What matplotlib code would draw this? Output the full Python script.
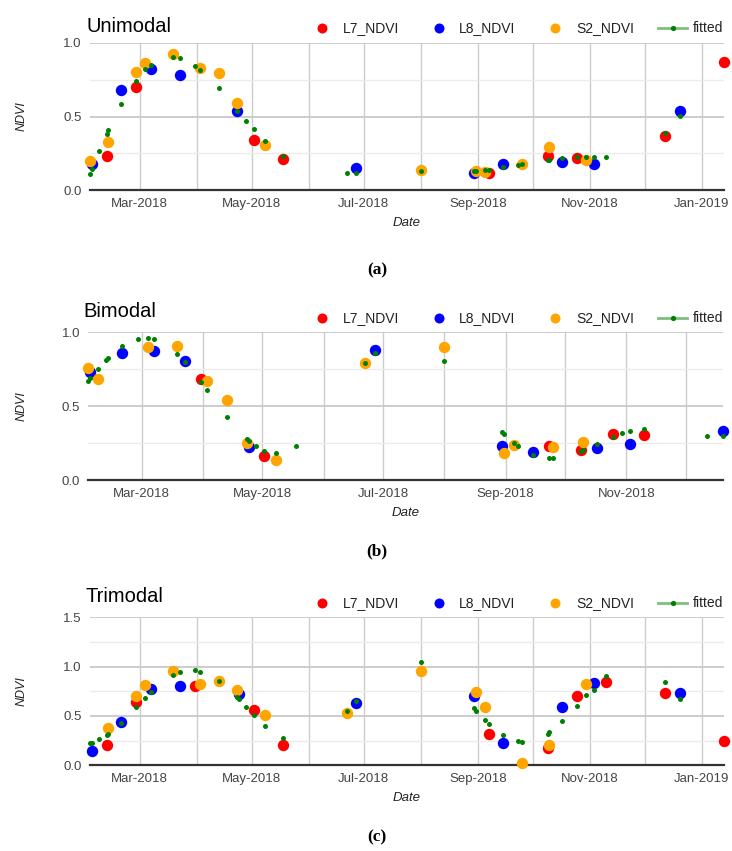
"""
Series temporales de NDVI (Landsat 7, Landsat 8, Sentinel-2) con la curva ajustada,
para tres patrones fenológicos: unimodal, bimodal y trimodal.
"""

import matplotlib
matplotlib.use('Agg')
import matplotlib.pyplot as plt
import matplotlib.dates as mdates
from matplotlib.lines import Line2D
from matplotlib.ticker import MultipleLocator, FormatStrFormatter
import pandas as pd

plt.rcParams['font.family'] = ['Liberation Sans', 'DejaVu Sans']

# =====================================================
# DATOS - UNIMODAL
# =====================================================
uni_l7_fechas = ['2018-02-11', '2018-02-27', '2018-05-02', '2018-05-18', '2018-09-07',
                 '2018-10-09', '2018-10-25', '2018-12-12', '2019-01-13']
uni_l7_ndvi = [0.23, 0.70, 0.34, 0.21, 0.12, 0.23, 0.22, 0.37, 0.87]

uni_l8_fechas = ['2018-02-03', '2018-02-19', '2018-03-07', '2018-03-23', '2018-04-23',
                 '2018-06-27', '2018-08-30', '2018-09-15', '2018-10-17', '2018-11-03',
                 '2018-12-20']
uni_l8_ndvi = [0.18, 0.68, 0.82, 0.78, 0.54, 0.15, 0.12, 0.18, 0.19, 0.18, 0.54]

uni_s2_fechas = ['2018-02-02', '2018-02-12', '2018-02-27', '2018-03-04', '2018-03-19',
                 '2018-04-03', '2018-04-13', '2018-04-23', '2018-05-08', '2018-08-01',
                 '2018-08-31', '2018-09-05', '2018-09-25', '2018-10-10', '2018-10-30']
uni_s2_ndvi = [0.20, 0.33, 0.80, 0.865, 0.925, 0.83, 0.795, 0.59, 0.31, 0.14,
               0.13, 0.125, 0.175, 0.29, 0.205]

uni_fit_fechas = ['2018-02-02', '2018-02-03', '2018-02-07', '2018-02-11', '2018-02-12',
                  '2018-02-19', '2018-02-27', '2018-03-04', '2018-03-07', '2018-03-19',
                  '2018-03-23', '2018-03-31', '2018-04-03', '2018-04-13', '2018-04-23',
                  '2018-04-28', '2018-05-02', '2018-05-08', '2018-05-18', '2018-06-22',
                  '2018-06-27', '2018-08-01', '2018-08-30', '2018-08-31', '2018-09-05',
                  '2018-09-07', '2018-09-15', '2018-09-23', '2018-09-25', '2018-10-09',
                  '2018-10-10', '2018-10-17', '2018-10-25', '2018-10-30', '2018-11-03',
                  '2018-11-10', '2018-12-12', '2018-12-20']
uni_fit_ndvi = [0.113, 0.142, 0.266, 0.384, 0.41, 0.585, 0.743, 0.82, 0.851, 0.903,
                0.896, 0.844, 0.815, 0.691, 0.537, 0.47, 0.415, 0.336, 0.232, 0.115,
                0.12, 0.133, 0.133, 0.133, 0.14, 0.14, 0.16, 0.174, 0.178, 0.205,
                0.205, 0.217, 0.223, 0.223, 0.223, 0.223, 0.386, 0.506]

# =====================================================
# DATOS - BIMODAL
# =====================================================
bi_l7_fechas = ['2018-03-31', '2018-05-02', '2018-09-23', '2018-10-09', '2018-10-25',
                '2018-11-10']
bi_l7_ndvi = [0.682, 0.167, 0.234, 0.205, 0.313, 0.304]

bi_l8_fechas = ['2018-02-03', '2018-02-19', '2018-03-07', '2018-03-23', '2018-04-24',
                '2018-06-27', '2018-08-30', '2018-09-15', '2018-10-17', '2018-11-03',
                '2018-12-20']
bi_l8_ndvi = [0.73, 0.863, 0.872, 0.804, 0.223, 0.881, 0.23, 0.194, 0.221, 0.248, 0.336]

bi_s2_fechas = ['2018-02-02', '2018-02-07', '2018-03-04', '2018-03-19', '2018-04-03',
                '2018-04-13', '2018-04-23', '2018-05-08', '2018-06-22', '2018-08-01',
                '2018-08-31', '2018-09-05', '2018-09-25', '2018-10-10']
bi_s2_ndvi = [0.757, 0.685, 0.903, 0.91, 0.669, 0.545, 0.25, 0.137, 0.79, 0.899,
              0.185, 0.239, 0.223, 0.261]

bi_fit_fechas = ['2018-02-02', '2018-02-03', '2018-02-07', '2018-02-11', '2018-02-12',
                 '2018-02-19', '2018-02-27', '2018-03-04', '2018-03-07', '2018-03-19',
                 '2018-03-23', '2018-03-31', '2018-04-03', '2018-04-13', '2018-04-23',
                 '2018-04-24', '2018-04-28', '2018-05-02', '2018-05-08', '2018-05-18',
                 '2018-06-22', '2018-06-27', '2018-08-01', '2018-08-30', '2018-08-31',
                 '2018-09-05', '2018-09-07', '2018-09-15', '2018-09-23', '2018-09-25',
                 '2018-10-09', '2018-10-10', '2018-10-17', '2018-10-25', '2018-10-30',
                 '2018-11-03', '2018-11-10', '2018-12-12', '2018-12-20']
bi_fit_ndvi = [0.671, 0.689, 0.752, 0.813, 0.829, 0.908, 0.957, 0.962, 0.955, 0.854,
               0.80, 0.664, 0.61, 0.428, 0.279, 0.268, 0.232, 0.2, 0.187, 0.234,
               0.79, 0.86, 0.804, 0.327, 0.311, 0.25, 0.23, 0.171, 0.151, 0.151,
               0.198, 0.205, 0.245, 0.295, 0.318, 0.331, 0.349, 0.30, 0.302]

# =====================================================
# DATOS - TRIMODAL
# =====================================================
tri_l7_fechas = ['2018-02-11', '2018-02-27', '2018-03-31', '2018-05-02', '2018-05-18',
                 '2018-09-07', '2018-10-09', '2018-10-25', '2018-11-10', '2018-12-12',
                 '2019-01-13']
tri_l7_ndvi = [0.209, 0.639, 0.804, 0.561, 0.206, 0.321, 0.172, 0.706, 0.848, 0.733, 0.247]

tri_l8_fechas = ['2018-02-03', '2018-02-19', '2018-03-07', '2018-03-23', '2018-04-24',
                 '2018-06-27', '2018-08-30', '2018-09-15', '2018-10-17', '2018-11-03',
                 '2018-12-20']
tri_l8_ndvi = [0.149, 0.439, 0.777, 0.807, 0.723, 0.628, 0.699, 0.23, 0.595, 0.838, 0.73]

tri_s2_fechas = ['2018-02-12', '2018-02-27', '2018-03-04', '2018-03-19', '2018-04-03',
                 '2018-04-13', '2018-04-23', '2018-05-08', '2018-06-22', '2018-08-01',
                 '2018-08-31', '2018-09-05', '2018-09-25', '2018-10-10', '2018-10-30']
tri_s2_ndvi = [0.378, 0.706, 0.811, 0.953, 0.828, 0.858, 0.76, 0.51, 0.53, 0.956,
               0.74, 0.595, 0.02, 0.206, 0.821]

tri_fit_fechas = ['2018-02-02', '2018-02-03', '2018-02-07', '2018-02-11', '2018-02-12',
                  '2018-02-19', '2018-02-27', '2018-03-04', '2018-03-07', '2018-03-19',
                  '2018-03-23', '2018-03-31', '2018-04-03', '2018-04-13', '2018-04-23',
                  '2018-04-24', '2018-04-28', '2018-05-02', '2018-05-08', '2018-05-18',
                  '2018-06-22', '2018-06-27', '2018-08-01', '2018-08-30', '2018-08-31',
                  '2018-09-05', '2018-09-07', '2018-09-15', '2018-09-23', '2018-09-25',
                  '2018-10-09', '2018-10-10', '2018-10-17', '2018-10-25', '2018-10-30',
                  '2018-11-03', '2018-11-10', '2018-12-12', '2018-12-20']
tri_fit_ndvi = [0.23, 0.23, 0.264, 0.307, 0.321, 0.432, 0.588, 0.686, 0.747, 0.916,
                0.949, 0.963, 0.949, 0.855, 0.689, 0.669, 0.588, 0.51, 0.402, 0.274,
                0.547, 0.652, 1.05, 0.578, 0.554, 0.459, 0.422, 0.304, 0.243, 0.236,
                0.318, 0.334, 0.449, 0.605, 0.709, 0.764, 0.909, 0.848, 0.672]

# =====================================================
# CONSTANTES DE ESTILO
# =====================================================
ROJO, AZUL, NARANJA, VERDE = '#ff0000', '#0000ff', '#ffa500', '#008000'
W, H = 732, 851


def px(x, y):
    """Pasa coordenadas en píxeles (origen arriba a la izquierda) a fracción de figura"""
    return x / W, 1 - y / H


def dibujar_panel(ax, series, ajuste, ylim, xlim):
    for fechas, valores, color in series:
        ax.plot(pd.to_datetime(fechas), valores, 'o', color=color, ms=8.2,
                mec='none', zorder=3, clip_on=False)
    ax.plot(pd.to_datetime(ajuste[0]), ajuste[1], 'o', color=VERDE, ms=3.6,
            mec='none', zorder=4, clip_on=False)

    ax.set_xlim(pd.to_datetime(xlim[0]), pd.to_datetime(xlim[1]))
    ax.set_ylim(*ylim)

    # eje de fechas: etiqueta cada dos meses, rejilla mensual
    ax.xaxis.set_major_locator(mdates.MonthLocator(bymonth=[1, 3, 5, 7, 9, 11]))
    ax.xaxis.set_major_formatter(mdates.DateFormatter('%b-%Y'))
    ax.xaxis.set_minor_locator(mdates.MonthLocator())
    ax.yaxis.set_major_locator(MultipleLocator(0.5))
    ax.yaxis.set_major_formatter(FormatStrFormatter('%.1f'))
    ax.yaxis.set_minor_locator(MultipleLocator(0.25))

    ax.grid(True, which='both', axis='x', color='#cccccc', lw=1)
    ax.grid(True, which='major', axis='y', color='#c8c8c8', lw=1.3)
    ax.grid(True, which='minor', axis='y', color='#ebebeb', lw=1)
    ax.set_axisbelow(True)

    for lado in ['top', 'right', 'left']:
        ax.spines[lado].set_visible(False)
    ax.spines['bottom'].set_color('#333333')
    ax.spines['bottom'].set_linewidth(1.6)
    ax.spines['bottom'].set_zorder(2)

    ax.tick_params(which='both', length=0, labelsize=9.5, labelcolor='#444444')
    ax.tick_params(axis='x', pad=5.5)
    ax.tick_params(axis='y', pad=6)


def dibujar_leyenda(fig, y):
    items = [(322, 343, ROJO, 'L7_NDVI'), (439, 459, AZUL, 'L8_NDVI'),
             (555, 576, NARANJA, 'S2_NDVI')]
    for xm, xt, color, texto in items:
        fx, fy = px(xm, y)
        fig.add_artist(Line2D([fx], [fy], marker='o', ms=7.2, color=color, mec='none',
                              transform=fig.transFigure))
        fig.text(*px(xt, y), texto, fontsize=10, color='#222222', va='center')
    x0, yy = px(658, y)
    x1, _ = px(687, y)
    fig.add_artist(Line2D([x0, x1], [yy, yy], color='#7fbf7f', lw=2,
                          transform=fig.transFigure))
    fig.add_artist(Line2D([(x0 + x1) / 2], [yy], marker='o', ms=3.8, color=VERDE,
                          mec='none', transform=fig.transFigure))
    fig.text(*px(693, y), 'fitted', fontsize=10, color='#222222', va='center')


# =====================================================
# FIGURA
# =====================================================
fig = plt.figure(figsize=(W / 100, H / 100), dpi=100)

paneles = [
    # titulo, series, ajuste, ylim, xlim, caja (px), pos. título, y leyenda, letra, y letra
    ('Unimodal',
     [(uni_l7_fechas, uni_l7_ndvi, ROJO), (uni_l8_fechas, uni_l8_ndvi, AZUL),
      (uni_s2_fechas, uni_s2_ndvi, NARANJA)],
     (uni_fit_fechas, uni_fit_ndvi), (0, 1.0), ('2018-02-02', '2019-01-13'),
     (90, 42.7, 724, 190.3), (87, 31.7), 28.3, '(a)', 270),
    ('Bimodal',
     [(bi_l7_fechas, bi_l7_ndvi, ROJO), (bi_l8_fechas, bi_l8_ndvi, AZUL),
      (bi_s2_fechas, bi_s2_ndvi, NARANJA)],
     (bi_fit_fechas, bi_fit_ndvi), (0, 1.0), ('2018-02-02', '2018-12-20'),
     (88.3, 332.3, 723.3, 480.3), (83, 317.3), 318.3, '(b)', 551),
    ('Trimodal',
     [(tri_l7_fechas, tri_l7_ndvi, ROJO), (tri_l8_fechas, tri_l8_ndvi, AZUL),
      (tri_s2_fechas, tri_s2_ndvi, NARANJA)],
     (tri_fit_fechas, tri_fit_ndvi), (0, 1.5), ('2018-02-02', '2019-01-13'),
     (90, 617.3, 724, 765.3), (85.5, 601.7), 603.3, '(c)', 837),
]

for titulo, series, ajuste, ylim, xlim, caja, pos_tit, y_ley, letra, y_letra in paneles:
    x0, y0, x1, y1 = caja
    ax = fig.add_axes([x0 / W, 1 - y1 / H, (x1 - x0) / W, (y1 - y0) / H])
    dibujar_panel(ax, series, ajuste, ylim, xlim)

    fig.text(*px(*pos_tit), titulo, fontsize=14.5, color='#000000', va='baseline')
    dibujar_leyenda(fig, y_ley)
    fig.text(*px(22, (y0 + y1) / 2), 'NDVI', rotation=90, style='italic', fontsize=9,
             color='#222222', ha='center', va='center')
    fig.text(*px((x0 + x1) / 2, y1 + 33), 'Date', style='italic', fontsize=9.5,
             color='#222222', ha='center', va='center')
    fig.text(*px(377, y_letra), letra, fontsize=12.5, fontweight='bold',
             family=['Liberation Serif', 'DejaVu Serif'], ha='center', va='center')

fig.savefig('out.png', dpi=100)
